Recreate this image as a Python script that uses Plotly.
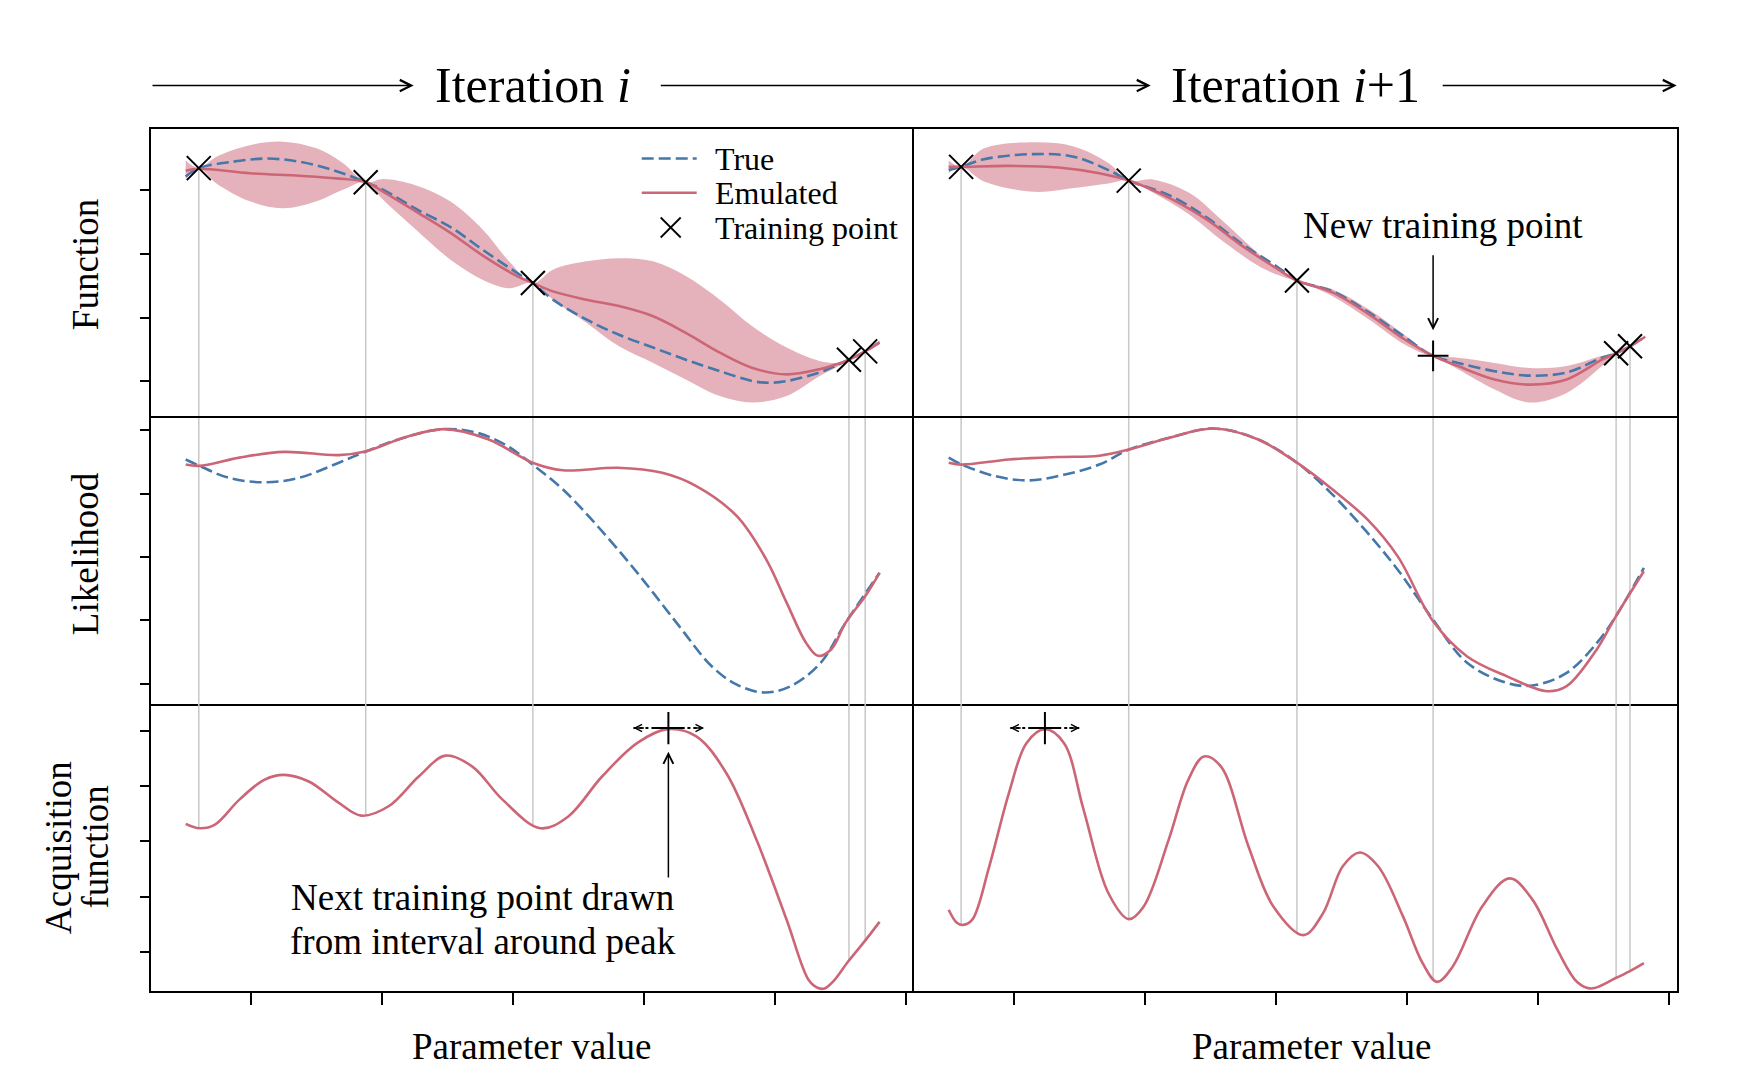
import plotly.graph_objects as go
from plotly.subplots import make_subplots

# ---------------- tick positions ----------------
x_tick_vals = [1, 2, 3, 4, 5, 6]
function_tick_vals = [1, 2, 3, 4]
likelihood_tick_vals = [1, 2, 3, 4, 5]
acquisition_tick_vals = [1, 2, 3, 4, 5]

# ---------------- Iteration i ----------------
train_x_i = [0.60, 1.875, 3.152, 5.566, 5.69]
train_f_i = [4.34, 4.12, 2.54, 1.34, 1.47]
train_acq_i = [3.24, 3.49, 3.27, 0.82, 1.20]

true_f_x_i = [0.50, 0.60, 0.86, 1.12, 1.37, 1.625, 1.875, 2.01, 2.26, 2.52, 2.77, 3.03, 3.152,
              3.305, 3.56, 3.81, 4.07, 4.32, 4.58, 4.83, 4.96, 5.09, 5.34, 5.49, 5.566, 5.69, 5.80]
true_f_y_i = [4.21, 4.34, 4.44, 4.49, 4.44, 4.31, 4.12, 4.00, 3.70, 3.42, 3.06, 2.70, 2.54,
              2.28, 1.97, 1.73, 1.53, 1.34, 1.16, 1.005, 0.98, 1.005, 1.14, 1.27, 1.34, 1.47, 1.61]

emul_f_x_i = [0.50, 0.60, 0.99, 1.37, 1.65, 1.875, 2.01, 2.26, 2.52, 2.77, 3.03, 3.152, 3.305,
              3.56, 3.81, 4.07, 4.32, 4.58, 4.83, 5.09, 5.34, 5.49, 5.566, 5.69, 5.80]
emul_f_y_i = [4.30, 4.33, 4.26, 4.22, 4.18, 4.12, 3.97, 3.66, 3.33, 2.97, 2.65, 2.54, 2.41,
              2.28, 2.18, 2.02, 1.76, 1.45, 1.21, 1.11, 1.19, 1.28, 1.34, 1.47, 1.61]

band_x_i = [0.50, 0.60, 0.735, 0.99, 1.24, 1.50, 1.70, 1.875, 2.01, 2.26, 2.52, 2.77, 2.97, 3.152,
            3.305, 3.56, 3.81, 4.07, 4.32, 4.58, 4.83, 5.09, 5.34, 5.49, 5.566, 5.69, 5.80]
band_up_i = [4.46, 4.34, 4.52, 4.70, 4.755, 4.65, 4.42, 4.12, 4.17, 4.07, 3.82, 3.375, 2.88, 2.54,
             2.75, 2.88, 2.93, 2.88, 2.65, 2.28, 1.86, 1.53, 1.32, 1.29, 1.34, 1.47, 1.64]
band_lo_i = [4.17, 4.34, 4.10, 3.82, 3.71, 3.82, 4.00, 4.12, 3.84, 3.375, 2.91, 2.59, 2.46, 2.54,
             2.28, 1.92, 1.55, 1.29, 1.03, 0.77, 0.67, 0.77, 1.08, 1.24, 1.34, 1.47, 1.58]

emul_L_x_i = [0.50, 0.605, 0.91, 1.25, 1.67, 1.88, 2.16, 2.47, 2.81, 3.15, 3.38, 3.80, 4.14, 4.40,
              4.71, 4.935, 5.09, 5.24, 5.33, 5.43, 5.54, 5.69, 5.80]
emul_L_y_i = [4.46, 4.44, 4.57, 4.66, 4.61, 4.67, 4.88, 5.02, 4.86, 4.49, 4.37, 4.41, 4.33, 4.12,
              3.645, 2.96, 2.28, 1.64, 1.44, 1.54, 1.96, 2.38, 2.75]
true_L_x_i = [0.50, 0.605, 0.83, 1.10, 1.365, 1.67, 1.88, 2.16, 2.47, 2.73, 2.96, 3.15, 3.38, 3.645,
              3.95, 4.25, 4.52, 4.71, 4.92, 5.12, 5.35, 5.54, 5.80]
true_L_y_i = [4.54, 4.44, 4.25, 4.18, 4.25, 4.49, 4.67, 4.88, 5.02, 4.96, 4.75, 4.46, 4.07, 3.49,
              2.75, 1.96, 1.27, 0.985, 0.86, 0.96, 1.33, 1.96, 2.75]

acq_x_i = [0.50, 0.605, 0.72, 0.91, 1.10, 1.25, 1.44, 1.67, 1.84, 2.05, 2.28, 2.485, 2.69, 2.92,
           3.21, 3.42, 3.68, 3.95, 4.18, 4.40, 4.63, 4.86, 5.09, 5.26, 5.33, 5.38, 5.45, 5.56,
           5.69, 5.80]
acq_y_i = [3.32, 3.24, 3.30, 3.76, 4.12, 4.21, 4.09, 3.70, 3.47, 3.64, 4.18, 4.56, 4.36, 3.76,
           3.24, 3.45, 4.18, 4.79, 5.04, 4.91, 4.24, 3.03, 1.58, 0.48, 0.34, 0.33, 0.47, 0.82,
           1.20, 1.54]

peak_x_i, peak_y_i = 4.187, 5.06
interval_i = [3.92, 4.46]

# ---------------- Iteration i+1 ----------------
train_x_i1 = [0.595, 1.875, 3.16, 5.598, 5.704]
train_f_i1 = [4.36, 4.145, 2.58, 1.44, 1.55]
new_x_i1, new_f_i1 = 4.20, 1.40
all_train_x_i1 = [0.595, 1.875, 3.16, 4.20, 5.598, 5.704]
all_train_f_i1 = [4.36, 4.145, 2.58, 1.40, 1.44, 1.55]
all_train_acq_i1 = [1.49, 1.59, 1.36, 0.48, 0.52, 0.64]

true_f_x_i1 = [0.50, 0.595, 0.77, 1.15, 1.455, 1.72, 1.875, 2.20, 2.475, 2.75, 3.02, 3.16, 3.435,
               3.71, 3.98, 4.20, 4.39, 4.67, 4.94, 5.22, 5.49, 5.598, 5.704, 5.82]
true_f_y_i1 = [4.31, 4.36, 4.48, 4.56, 4.52, 4.31, 4.145, 3.90, 3.56, 3.14, 2.78, 2.58, 2.41,
               2.08, 1.70, 1.40, 1.29, 1.16, 1.09, 1.14, 1.37, 1.44, 1.55, 1.70]

emul_f_x_i1 = [0.50, 0.595, 0.96, 1.34, 1.65, 1.875, 2.065, 2.20, 2.475, 2.75, 3.02, 3.16, 3.435,
               3.71, 3.98, 4.20, 4.39, 4.67, 4.94, 5.22, 5.49, 5.598, 5.704, 5.82]
emul_f_y_i1 = [4.36, 4.36, 4.375, 4.35, 4.26, 4.145, 3.99, 3.86, 3.53, 3.11, 2.75, 2.58, 2.39,
               2.05, 1.66, 1.40, 1.24, 1.03, 0.95, 1.03, 1.34, 1.44, 1.55, 1.70]

band_x_i1 = [0.50, 0.595, 0.77, 1.15, 1.455, 1.72, 1.875, 2.065, 2.34, 2.61, 2.89, 3.08, 3.16, 3.435,
             3.71, 3.98, 4.145, 4.20, 4.39, 4.67, 4.94, 5.22, 5.49, 5.598, 5.704, 5.82]
band_up_i1 = [4.46, 4.36, 4.65, 4.745, 4.68, 4.42, 4.145, 4.16, 3.95, 3.48, 2.96, 2.67, 2.58, 2.44,
              2.125, 1.73, 1.47, 1.40, 1.37, 1.29, 1.21, 1.24, 1.40, 1.44, 1.55, 1.72]
band_lo_i1 = [4.26, 4.36, 4.13, 3.97, 4.03, 4.10, 4.145, 3.95, 3.61, 3.17, 2.78, 2.62, 2.58, 2.33,
              1.97, 1.58, 1.42, 1.40, 1.19, 0.875, 0.67, 0.82, 1.24, 1.44, 1.55, 1.68]

emul_L_x_i1 = [0.50, 0.60, 0.96, 1.34, 1.65, 1.88, 2.18, 2.52, 2.86, 3.16, 3.43, 3.70, 3.93, 4.20,
               4.46, 4.765, 5.07, 5.22, 5.45, 5.595, 5.81]
emul_L_y_i1 = [4.49, 4.46, 4.54, 4.58, 4.60, 4.70, 4.88, 5.03, 4.86, 4.49, 4.07, 3.59, 3.01, 1.985,
               1.43, 1.115, 0.88, 0.96, 1.54, 2.06, 2.775]
true_L_x_i1 = [0.50, 0.60, 0.85, 1.11, 1.38, 1.65, 1.88, 2.18, 2.52, 2.86, 3.16, 3.43, 3.70, 3.93,
               4.20, 4.46, 4.765, 4.96, 5.22, 5.45, 5.595, 5.81]
true_L_y_i1 = [4.57, 4.46, 4.28, 4.21, 4.30, 4.46, 4.70, 4.88, 5.03, 4.86, 4.49, 3.99, 3.38, 2.80,
               2.01, 1.33, 1.01, 0.97, 1.17, 1.64, 2.06, 2.83]

acq_x_i1 = [0.50, 0.56, 0.61, 0.68, 0.81, 0.96, 1.095, 1.235, 1.38, 1.53, 1.72, 1.875, 1.99, 2.18,
            2.33, 2.45, 2.58, 2.79, 2.98, 3.21, 3.36, 3.51, 3.64, 3.78, 3.97, 4.12, 4.23, 4.35,
            4.575, 4.785, 4.96, 5.15, 5.30, 5.41, 5.595, 5.70, 5.81]
acq_y_i1 = [1.76, 1.53, 1.485, 1.58, 2.55, 3.88, 4.79, 5.04, 4.79, 3.58, 2.06, 1.59, 1.82, 3.03,
            4.12, 4.545, 4.36, 2.91, 1.82, 1.30, 1.70, 2.55, 2.80, 2.55, 1.64, 0.79, 0.45, 0.73,
            1.82, 2.33, 1.94, 1.03, 0.45, 0.33, 0.52, 0.64, 0.79]

peak_x_i1, peak_y_i1 = 1.235, 5.06
interval_i1 = [0.97, 1.50]

# ---------------- styling ----------------
RED = "#CC6677"
BLUE = "#4477AA"
BAND = "rgba(204,102,119,0.5)"
GRAY = "#c8c8c8"
FONT = "Liberation Serif"
X_RANGE = [0.235, 6.063]
Y_RANGES = {1: [0.453, 4.953], 2: [0.684, 5.222], 3: [0.285, 5.503]}
Y_TICKS = {1: function_tick_vals, 2: likelihood_tick_vals, 3: acquisition_tick_vals}
AX = {(1, 1): ("x", "y"), (1, 2): ("x2", "y2"), (2, 1): ("x3", "y3"),
      (2, 2): ("x4", "y4"), (3, 1): ("x5", "y5"), (3, 2): ("x6", "y6")}
FRAME_W = 1.6

fig = make_subplots(rows=3, cols=2, horizontal_spacing=0, vertical_spacing=0)

SPL = dict(shape="spline", smoothing=1.0)


def band(x, up, lo, col):
    fig.add_trace(go.Scatter(x=x, y=lo, mode="lines", line=dict(width=0, **SPL),
                             hoverinfo="skip", showlegend=False), row=1, col=col)
    fig.add_trace(go.Scatter(x=x, y=up, mode="lines", line=dict(width=0, **SPL),
                             fill="tonexty", fillcolor=BAND, hoverinfo="skip",
                             showlegend=False), row=1, col=col)


def true_line(x, y, row, col):
    fig.add_trace(go.Scatter(x=x, y=y, mode="lines", name="True",
                             line=dict(color=BLUE, width=2.6, dash="12px,5px", **SPL),
                             showlegend=False), row=row, col=col)


def emul_line(x, y, row, col):
    fig.add_trace(go.Scatter(x=x, y=y, mode="lines", name="Emulated",
                             line=dict(color=RED, width=2.6, **SPL),
                             showlegend=False), row=row, col=col)


def markers(x, y, symbol, size, row, col):
    fig.add_trace(go.Scatter(x=x, y=y, mode="markers", name="Training point",
                             marker=dict(symbol=symbol, size=size, color="black",
                                         line=dict(color="black", width=2)),
                             showlegend=False), row=row, col=col)


# Iteration i
band(band_x_i, band_up_i, band_lo_i, 1)
true_line(true_f_x_i, true_f_y_i, 1, 1)
emul_line(emul_f_x_i, emul_f_y_i, 1, 1)
markers(train_x_i, train_f_i, "x-thin", 24, 1, 1)
true_line(true_L_x_i, true_L_y_i, 2, 1)
emul_line(emul_L_x_i, emul_L_y_i, 2, 1)
emul_line(acq_x_i, acq_y_i, 3, 1)
markers([peak_x_i], [peak_y_i], "cross-thin", 23, 3, 1)

# Iteration i+1
band(band_x_i1, band_up_i1, band_lo_i1, 2)
true_line(true_f_x_i1, true_f_y_i1, 1, 2)
emul_line(emul_f_x_i1, emul_f_y_i1, 1, 2)
markers(train_x_i1, train_f_i1, "x-thin", 24, 1, 2)
markers([new_x_i1], [new_f_i1], "cross-thin", 22, 1, 2)
true_line(true_L_x_i1, true_L_y_i1, 2, 2)
emul_line(emul_L_x_i1, emul_L_y_i1, 2, 2)
emul_line(acq_x_i1, acq_y_i1, 3, 2)
markers([peak_x_i1], [peak_y_i1], "cross-thin", 23, 3, 2)

# ---------------- axes (each frame edge drawn once) ----------------
for r in (1, 2, 3):
    for c in (1, 2):
        fig.update_xaxes(row=r, col=c, range=X_RANGE, tickvals=x_tick_vals, showticklabels=False,
                         ticks="outside" if r == 3 else "", ticklen=12, tickwidth=1.5,
                         tickcolor="black", showgrid=False, zeroline=False, showline=True,
                         mirror=(r == 1), linecolor="black", linewidth=FRAME_W)
        fig.update_yaxes(row=r, col=c, range=Y_RANGES[r], tickvals=Y_TICKS[r],
                         showticklabels=False, ticks="outside" if c == 1 else "", ticklen=9,
                         tickwidth=1.5, tickcolor="black", showgrid=False, zeroline=False,
                         showline=True, mirror=(c == 2), linecolor="black", linewidth=FRAME_W)

# ---------------- vertical guide lines at training points ----------------
shapes = []


def guides(xs, fs, acqs, col):
    xr1, yr1 = AX[(1, col)]
    xr2, yr2 = AX[(2, col)]
    xr3, yr3 = AX[(3, col)]
    for x, f, a in zip(xs, fs, acqs):
        ln = dict(color=GRAY, width=1.5)
        shapes.append(dict(type="line", xref=xr1, yref=yr1, x0=x, x1=x, y0=f, y1=Y_RANGES[1][0],
                           line=ln, layer="below"))
        shapes.append(dict(type="line", xref=xr2, yref=yr2 + " domain", x0=x, x1=x, y0=0, y1=1,
                           line=ln, layer="below"))
        shapes.append(dict(type="line", xref=xr3, yref=yr3, x0=x, x1=x, y0=a, y1=Y_RANGES[3][1],
                           line=ln, layer="below"))


guides(train_x_i, train_f_i, train_acq_i, 1)
guides(all_train_x_i1, all_train_f_i1, all_train_acq_i1, 2)

# dotted intervals around the acquisition peaks, with small chevron heads
annotations = []
for (lo, hi), py, col in ((interval_i, peak_y_i, 1), (interval_i1, peak_y_i1, 2)):
    xr, yr = AX[(3, col)]
    shapes.append(dict(type="line", xref=xr, yref=yr, x0=lo, x1=hi, y0=py, y1=py,
                       line=dict(color="black", width=2, dash="dot")))
    for xe, axo in ((hi, -12), (lo, 12)):
        annotations.append(dict(xref=xr, yref=yr, x=xe, y=py, ax=axo, ay=0, text="",
                                showarrow=True, arrowhead=5, arrowsize=1.0, arrowwidth=1.4,
                                arrowcolor="black"))

# ---------------- custom legend (top-left panel) ----------------
PW, PH, PL, PB = 1526.0, 862.0, 151.3, 991.0


def px_x(v):
    return (v - PL) / PW


def px_y(v):
    return (PB - v) / PH


leg_rows = [158.5, 192.7, 227.5]
shapes.append(dict(type="line", xref="paper", yref="paper", x0=px_x(642), x1=px_x(697),
                   y0=px_y(leg_rows[0]), y1=px_y(leg_rows[0]),
                   line=dict(color=BLUE, width=2.6, dash="12px,5px")))
shapes.append(dict(type="line", xref="paper", yref="paper", x0=px_x(642), x1=px_x(697),
                   y0=px_y(leg_rows[1]), y1=px_y(leg_rows[1]), line=dict(color=RED, width=2.6)))
for sgn in (1, -1):
    shapes.append(dict(type="line", xref="paper", yref="paper",
                       x0=px_x(671 - 10), x1=px_x(671 + 10),
                       y0=px_y(leg_rows[2] - 10 * sgn), y1=px_y(leg_rows[2] + 10 * sgn),
                       line=dict(color="black", width=1.8)))
for txt, yy in zip(["True", "Emulated", "Training point"], leg_rows):
    annotations.append(dict(xref="paper", yref="paper", x=px_x(713), y=px_y(yy), text=txt,
                            showarrow=False, xanchor="left", yanchor="middle",
                            font=dict(size=32, family=FONT, color="black")))

# ---------------- titles with arrows ----------------
for txt, cx in (("Iteration <i>i</i>", 533), ("Iteration <i>i</i>+1", 1295.5)):
    annotations.append(dict(xref="paper", yref="paper", x=px_x(cx), y=px_y(85), text=txt,
                            showarrow=False, xanchor="center", yanchor="middle",
                            font=dict(size=50, family=FONT, color="black")))
for x0, x1 in ((151.3, 414), (659.6, 1151), (1441.5, 1677)):
    annotations.append(dict(xref="paper", yref="paper", x=px_x(x1), y=px_y(85.6),
                            ax=-(x1 - x0), ay=0, text="", showarrow=True, arrowhead=5,
                            arrowsize=1.5, arrowwidth=1.5, arrowcolor="black"))

# ---------------- axis labels ----------------
LBL = dict(size=37, family=FONT, color="black")
C = dict(xanchor="center", yanchor="middle", showarrow=False, font=LBL)
annotations.append(dict(xref="paper", yref="paper", x=px_x(85.5), y=px_y(264), text="Function",
                        textangle=-90, **C))
annotations.append(dict(xref="paper", yref="paper", x=px_x(85.5), y=px_y(554), text="Likelihood",
                        textangle=-90, **C))
annotations.append(dict(xref="paper", yref="paper", x=px_x(58.7), y=px_y(847.5), text="Acquisition",
                        textangle=-90, **C))
annotations.append(dict(xref="paper", yref="paper", x=px_x(95.4), y=px_y(847.5), text="function",
                        textangle=-90, **C))
for cx in (531.6, 1311.3):
    annotations.append(dict(xref="paper", yref="paper", x=px_x(cx), y=px_y(1046.5),
                            text="Parameter value", **C))

# ---------------- callouts ----------------
annotations.append(dict(xref="x2", yref="y2", x=4.274, y=3.445, text="New training point", **C))
annotations.append(dict(xref="x2", yref="y2", axref="x2", ayref="y2", x=new_x_i1, y=1.80,
                        ax=new_x_i1, ay=3.0, text="", showarrow=True, arrowhead=5,
                        arrowsize=1.3, arrowwidth=1.5, arrowcolor="black"))
annotations.append(dict(xref="x5", yref="y5", x=2.768, y=1.987, text="Next training point drawn", **C))
annotations.append(dict(xref="x5", yref="y5", x=2.768, y=1.187, text="from interval around peak", **C))
annotations.append(dict(xref="x5", yref="y5", axref="x5", ayref="y5", x=peak_x_i, y=4.63,
                        ax=peak_x_i, ay=2.32, text="", showarrow=True, arrowhead=5,
                        arrowsize=1.3, arrowwidth=1.5, arrowcolor="black"))

fig.update_layout(width=1744, height=1088, margin=dict(l=151, r=67, t=129, b=97),
                  plot_bgcolor="white", paper_bgcolor="white", showlegend=False,
                  hovermode=False, font=dict(family=FONT, color="black"),
                  shapes=shapes, annotations=annotations)

fig.write_html("out.html")
